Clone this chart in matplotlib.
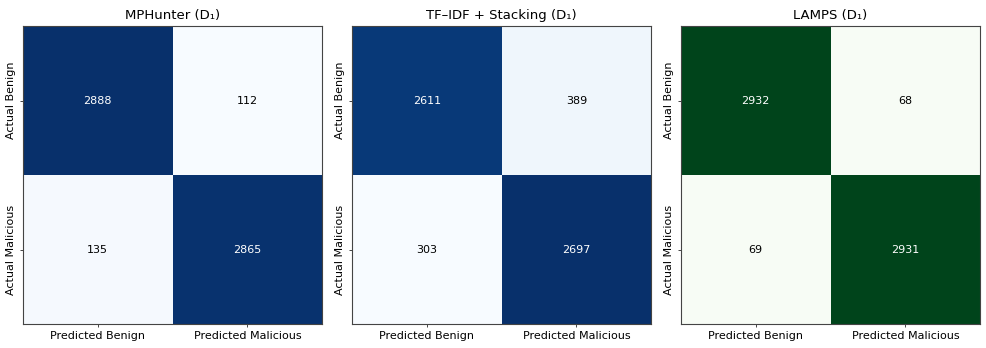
import numpy as np
import matplotlib
matplotlib.use('Agg')
import matplotlib.pyplot as plt

### Confusion matrix counts ###
titles = ['MPHunter (D\u2081)', 'TF\u2013IDF + Stacking (D\u2081)', 'LAMPS (D\u2081)']
mphunter = [[2888, 112], [135, 2865]]
tfidf_stacking = [[2611, 389], [303, 2697]]
lamps = [[2932, 68], [69, 2931]]
cmaps = ['Blues', 'Blues', 'Greens']

x_labels = ['Predicted Benign', 'Predicted Malicious']
y_labels = ['Actual Benign', 'Actual Malicious']

fig, axes = plt.subplots(1, 3, figsize=(9.87, 3.48), dpi=100)
fig.subplots_adjust(left=0.0233, right=0.993, bottom=0.069, top=0.925, wspace=0.1)

for ax, title, cm, cmap in zip(axes, titles, [mphunter, tfidf_stacking, lamps], cmaps):
    cm = np.array(cm)
    ax.imshow(cm, cmap=cmap, aspect='auto')
    ax.set_title(title, fontsize=9.5, pad=5)
    ax.set_xticks([0, 1])
    ax.set_xticklabels(x_labels, fontsize=8)
    ax.set_yticks([0, 1])
    ax.set_yticklabels(y_labels, fontsize=8, rotation=90, va='center')
    ax.tick_params(length=2, width=0.7, pad=3, color='#444444')
    thresh = cm.max() / 2
    for i in range(2):
        for j in range(2):
            ax.text(j, i, str(cm[i, j]), ha='center', va='center', fontsize=8,
                    color='white' if cm[i, j] > thresh else 'black')
    for s in ax.spines.values():
        s.set_color('#444444')
        s.set_linewidth(0.8)

fig.savefig('out.png', dpi=100)
